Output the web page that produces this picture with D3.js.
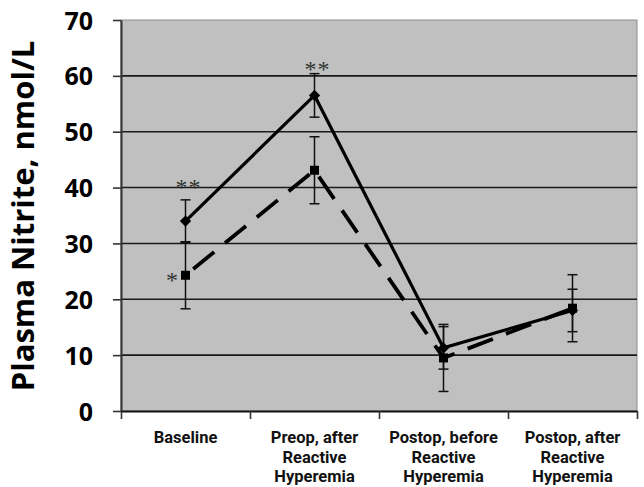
<!DOCTYPE html>
<html>
<head>
<meta charset="utf-8">
<script src="https://cdn.jsdelivr.net/npm/d3@7"></script>
<style>
  body { margin: 0; background: #fff; }
  .tick-label { font-family: "Open Sans", sans-serif; font-weight: 700; }
  .cat-label { font-family: Roboto, "Open Sans", sans-serif; font-weight: 700; }
</style>
</head>
<body>
<div class="chart"></div>
<script>
// categories, one array of lines per label
const categories = [
  ["Baseline"],
  ["Preop, after", "Reactive", "Hyperemia"],
  ["Postop, before", "Reactive", "Hyperemia"],
  ["Postop, after", "Reactive", "Hyperemia"]
];
// solid line (diamonds)
const solidValues = [34.0, 56.5, 11.3, 18.0];
const solidErr = [3.8, 3.9, 3.8, 3.8];
// dashed line (squares)
const dashedValues = [24.3, 43.1, 9.5, 18.4];
const dashedErr = [6.0, 6.0, 6.0, 6.0];
// y ticks
const yTicks = [0, 10, 20, 30, 40, 50, 60, 70];
// significance marks: category index, series, value at glyph centre
const marks = [
  { cat: 0, series: "solid", value: 40.9, text: "**" },
  { cat: 1, series: "solid", value: 61.9, text: "**" },
  { cat: 0, series: "dashed", value: 24.2, text: "*" }
];

const svg_width = 644, svg_height = 487;
const margin = { top: 20, right: 7, bottom: 76, left: 121 };
const chart_width = svg_width - margin.left - margin.right;
const chart_height = svg_height - margin.top - margin.bottom;

const svg = d3.select(".chart").append("svg")
  .attr("width", svg_width).attr("height", svg_height);
const g = svg.append("g").attr("transform", `translate(${margin.left},${margin.top})`);

const xScale = d3.scaleBand().domain(d3.range(categories.length)).range([0, chart_width]);
const cx = i => xScale(i) + xScale.bandwidth() / 2;
const yScale = d3.scaleLinear().domain([0, 70]).range([chart_height, 0]);

// plot background
g.append("rect").attr("width", chart_width).attr("height", chart_height)
  .attr("fill", "#c0c0c0").attr("stroke", "#8c8c8c").attr("stroke-width", 1);

// gridlines
g.selectAll(".grid").data(yTicks.filter(d => d > 0 && d < 70)).enter()
  .append("line").attr("class", "grid")
  .attr("x1", 0).attr("x2", chart_width)
  .attr("y1", d => yScale(d)).attr("y2", d => yScale(d))
  .attr("stroke", "#1a1a1a").attr("stroke-width", 1.6);

// y axis
const yAxis = d3.axisLeft(yScale).tickValues(yTicks).tickSizeInner(8).tickSizeOuter(0).tickPadding(20);
const yAxisDraw = g.append("g").call(yAxis);
yAxisDraw.select(".domain").attr("stroke", "#333").attr("stroke-width", 2);
yAxisDraw.selectAll(".tick line").attr("stroke", "#333").attr("stroke-width", 1.6);
yAxisDraw.selectAll(".tick text").attr("class", "tick-label")
  .style("font-size", "25px").attr("fill", "#000").attr("dy", "0.36em");

// x axis
const xAxis = d3.axisBottom(d3.scaleLinear().domain([0, 4]).range([0, chart_width]))
  .tickValues([0, 1, 2, 3, 4]).tickSizeInner(8).tickSizeOuter(0).tickFormat("");
const xAxisDraw = g.append("g").attr("transform", `translate(0,${chart_height})`).call(xAxis);
xAxisDraw.select(".domain").attr("stroke", "#111").attr("stroke-width", 2.2);
xAxisDraw.selectAll(".tick line").attr("stroke", "#333").attr("stroke-width", 1.6);

// category labels
const catG = g.append("g").attr("transform", `translate(0,${chart_height})`);
categories.forEach((lines, i) => {
  lines.forEach((s, j) => {
    catG.append("text").attr("class", "cat-label")
      .attr("text-anchor", "middle").style("font-size", "16.5px")
      .attr("fill", "#111")
      .attr("x", cx(i)).attr("y", 32 + j * 19.5).text(s);
  });
});

// y axis title, sized to span the reference height
const title = svg.append("text")
  .attr("transform", `translate(34,${margin.top + 196}) rotate(-90)`)
  .attr("text-anchor", "middle")
  .attr("class", "tick-label").style("font-size", "26px").attr("fill", "#000")
  .text("Plasma Nitrite, nmol/L");
const tl = title.node().getComputedTextLength();
title.style("font-size", Math.min(31, 26 * 364 / tl) + "px");

// error bars
function errorBars(values, errs) {
  const eg = g.append("g");
  values.forEach((v, i) => {
    const x = cx(i);
    const lo = yScale(v - errs[i]), hi = yScale(v + errs[i]);
    eg.append("line").attr("x1", x).attr("x2", x).attr("y1", lo).attr("y2", hi)
      .attr("stroke", "#111").attr("stroke-width", 1.5);
    [lo, hi].forEach(yy => eg.append("line")
      .attr("x1", x - 5).attr("x2", x + 5).attr("y1", yy).attr("y2", yy)
      .attr("stroke", "#111").attr("stroke-width", 1.5));
  });
}
errorBars(dashedValues, dashedErr);
errorBars(solidValues, solidErr);

const line = d3.line().x((d, i) => cx(i)).y(d => yScale(d));

// dashed series
g.append("path").datum(dashedValues).attr("d", line)
  .attr("fill", "none").attr("stroke", "#000").attr("stroke-width", 3.8)
  .attr("stroke-dasharray", "27,14").attr("stroke-dashoffset", -10);
g.selectAll(".sq").data(dashedValues).enter().append("rect").attr("class", "sq")
  .attr("x", (d, i) => cx(i) - 4.5).attr("y", d => yScale(d) - 4.5)
  .attr("width", 9).attr("height", 9).attr("fill", "#000");

// solid series
g.append("path").datum(solidValues).attr("d", line)
  .attr("fill", "none").attr("stroke", "#000").attr("stroke-width", 3.2);
g.selectAll(".dia").data(solidValues).enter().append("path").attr("class", "dia")
  .attr("transform", (d, i) => `translate(${cx(i)},${yScale(d)}) rotate(45)`)
  .attr("d", "M-4,-4H4V4H-4Z").attr("fill", "#000");

// significance marks
marks.forEach(m => {
  const x = m.series === "dashed" ? cx(m.cat) - 13 : cx(m.cat) + 3;
  g.append("text").attr("x", x).attr("y", yScale(m.value))
    .attr("text-anchor", "middle").attr("dy", "0.5em")
    .style("font-family", "'Liberation Serif', serif").style("font-size", "24px")
    .style("letter-spacing", "1px").attr("fill", "#333").text(m.text);
});
</script>
</body>
</html>
